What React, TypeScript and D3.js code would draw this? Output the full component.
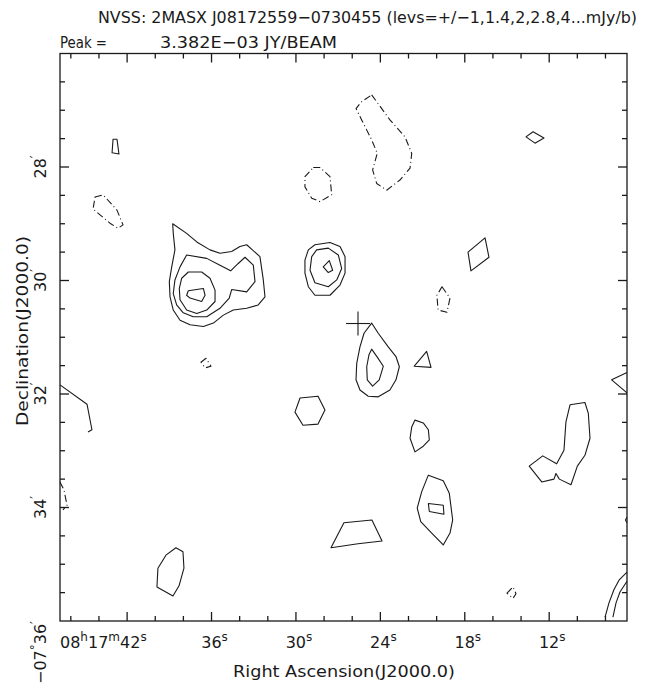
import React from 'react';
import * as d3 from 'd3';

// RA in seconds of 08h17m, Dec in arcmin below -07deg
const raRange = [46.77, 6.47];
const decRange = [26, 36];
const raTicks = d3.range(46, 7, -2);
const raLabels = [42, 36, 30, 24, 18, 12];
const decTicks = d3.range(26.5, 36, 0.5);
const decLabels = [28, 30, 32, 34];
const target = [25.59, 30.758];

// contours: [ra sec, dec arcmin]
const posContours = [
  [[43.0, 27.51], [42.72, 27.51], [42.58, 27.77], [43.07, 27.75]],
  // bright source west
  [[38.76, 29.0], [38.72, 29.17], [38.6, 29.46], [38.83, 29.76], [39.0, 30.02], [38.95, 30.29], [38.72, 30.52], [38.24, 30.7], [37.53, 30.78], [36.58, 30.81], [35.87, 30.75], [35.16, 30.61], [34.45, 30.52], [33.5, 30.49], [32.68, 30.43], [32.2, 30.29], [32.32, 29.99], [32.56, 29.58], [33.5, 29.37], [33.98, 29.4], [34.57, 29.49], [35.4, 29.52], [36.11, 29.46], [37.05, 29.32], [37.77, 29.17]],
  [[37.77, 29.55], [36.34, 29.61], [35.4, 29.73], [34.64, 29.83], [34.1, 29.7], [33.62, 29.59], [33.03, 29.73], [32.91, 30.02], [33.5, 30.2], [34.57, 30.16], [34.74, 30.31], [35.4, 30.49], [36.34, 30.64], [37.3, 30.64], [38.01, 30.57], [38.48, 30.43], [38.72, 30.23], [38.6, 29.99], [38.24, 29.76]],
  [[37.65, 29.85], [36.7, 29.85], [36.11, 29.96], [35.75, 30.17], [35.75, 30.37], [36.34, 30.52], [37.05, 30.58], [37.77, 30.52], [38.24, 30.34], [38.29, 30.14], [38.12, 29.96]],
  [[37.65, 30.18], [36.58, 30.14], [36.46, 30.26], [36.7, 30.37], [37.53, 30.31], [37.77, 30.26]],
  // compact source north
  [[28.65, 29.37], [27.58, 29.33], [26.87, 29.4], [26.51, 29.58], [26.51, 29.87], [26.87, 30.08], [27.58, 30.26], [28.65, 30.26], [29.12, 30.11], [29.36, 29.87], [29.36, 29.64], [29.12, 29.46]],
  [[28.53, 29.46], [27.7, 29.43], [26.99, 29.55], [26.75, 29.79], [27.1, 29.99], [27.7, 30.11], [28.65, 30.04], [29.0, 29.82], [28.88, 29.58]],
  [[28.06, 29.76], [27.63, 29.65], [27.39, 29.82], [27.7, 29.86]],
  // source at the galaxy
  [[24.62, 30.75], [24.15, 30.93], [23.44, 31.17], [22.89, 31.34], [22.65, 31.52], [22.89, 31.75], [23.32, 31.93], [24.15, 32.05], [24.86, 32.04], [25.45, 31.93], [25.73, 31.75], [25.68, 31.46], [25.45, 31.17], [25.16, 30.93]],
  [[24.62, 31.21], [24.22, 31.35], [23.79, 31.51], [24.08, 31.75], [24.55, 31.86], [24.93, 31.75], [24.97, 31.52], [24.81, 31.31]],
  [[21.59, 31.51], [20.71, 31.25], [20.4, 31.53]],
  [[29.71, 32.07], [28.43, 32.04], [27.94, 32.28], [28.43, 32.53], [29.5, 32.55], [30.07, 32.32]],
  [[21.54, 32.46], [20.95, 32.51], [20.59, 32.63], [20.52, 32.81], [20.95, 32.92], [21.54, 33.02], [21.89, 32.78], [21.77, 32.58]],
  [[20.59, 33.43], [19.53, 33.53], [19.1, 33.75], [18.86, 34.22], [19.05, 34.45], [19.53, 34.66], [20.35, 34.45], [21.13, 34.25], [21.38, 34.01], [21.06, 33.72]],
  [[20.59, 33.93], [19.53, 33.96], [19.48, 34.12], [20.52, 34.07]],
  [[9.46, 32.15], [10.52, 32.19], [10.81, 32.49], [10.95, 32.99], [11.47, 33.23], [12.46, 33.09], [13.42, 33.27], [12.53, 33.55], [11.66, 33.5], [11.52, 33.4], [11.28, 33.5], [10.45, 33.6], [10.0, 33.27], [9.46, 33.08], [9.1, 32.78], [9.22, 32.34]],
  [[38.53, 34.71], [38.03, 34.78], [37.96, 35.07], [38.31, 35.38], [38.74, 35.56], [39.88, 35.4], [39.81, 35.07], [39.24, 34.84]],
  [[27.51, 34.71], [26.59, 34.27], [24.6, 34.22], [23.88, 34.59], [25.59, 34.64]],
  [[13.65, 27.47], [13.15, 27.38], [12.37, 27.49], [13.01, 27.58]],
  [[16.56, 29.25], [16.28, 29.59], [17.56, 29.83], [17.77, 29.5]],
];

// contours cut by the map edge (open)
const edgeContours = [
  [[6.47, 31.62], [7.56, 31.75], [6.47, 31.98]],
  [[8.03, 35.93], [7.75, 35.68], [7.4, 35.45], [7.04, 35.28], [6.47, 35.14]],
  [[7.47, 35.93], [7.25, 35.68], [6.97, 35.49], [6.47, 35.3]],
  [[6.47, 34.17], [6.58, 34.22], [6.47, 34.27]],
  [[46.77, 31.84], [44.85, 32.18], [44.5, 32.63], [44.78, 32.67]],
];

const negContours = [
  [[44.28, 28.53], [43.71, 28.49], [42.72, 28.76], [42.29, 29.02], [42.65, 29.08], [43.22, 28.99], [44.42, 28.74]],
  [[28.77, 28.01], [28.29, 28.01], [27.58, 28.17], [27.46, 28.49], [28.29, 28.61], [28.88, 28.55], [29.36, 28.35], [29.36, 28.17]],
  [[24.62, 26.73], [24.26, 26.85], [23.32, 27.17], [22.25, 27.47], [21.77, 27.76], [21.89, 28.02], [22.61, 28.23], [23.55, 28.41], [24.26, 28.29], [24.55, 28.05], [24.22, 27.76], [24.62, 27.52], [25.33, 27.17], [25.73, 26.97], [25.33, 26.85]],
  [[19.62, 30.11], [19.05, 30.31], [19.27, 30.56], [19.9, 30.52], [19.98, 30.26]],
  [[36.75, 31.44], [36.39, 31.37], [36.04, 31.51], [36.46, 31.54]],
  [[15.0, 35.51], [14.57, 35.4], [14.36, 35.52], [14.57, 35.6]],
];
const negEdge = [
  [[46.77, 33.55], [46.49, 33.69], [46.27, 33.96], [46.56, 34.04]],
];

const font = '"DejaVu Sans", sans-serif';
const ink = '#1a1a1a';

export default function App() {
  const x = d3.scaleLinear().domain(raRange).range([60, 627]);
  const y = d3.scaleLinear().domain(decRange).range([53.5, 621]);
  const open = d3.line<number[]>().x((d) => x(d[0])).y((d) => y(d[1]));
  const closed = d3.line<number[]>().x((d) => x(d[0])).y((d) => y(d[1])).curve(d3.curveLinearClosed);
  const [x0, x1] = x.range();
  const [y0, y1] = y.range();
  const dash = '7,3,1,3';

  return (
    <svg width={646} height={687} style={{ position: 'absolute', left: 0, top: 0, background: '#fff' }}>
      <rect width={646} height={687} fill="#fff" />
      <g fill={ink} fontFamily={font}>
        <text x={98} y={23} fontSize={16} textLength={539} lengthAdjust="spacingAndGlyphs">
          NVSS: 2MASX J08172559−0730455 (levs=+/−1,1.4,2,2.8,4...mJy/b)
        </text>
        <text x={60} y={48} fontSize={16} textLength={47} lengthAdjust="spacingAndGlyphs">Peak =</text>
        <text x={160} y={48} fontSize={16} textLength={177} lengthAdjust="spacingAndGlyphs">3.382E−03 JY/BEAM</text>
        <text x={344} y={677} fontSize={16} textAnchor="middle" textLength={222} lengthAdjust="spacingAndGlyphs">
          Right Ascension(J2000.0)
        </text>
        <text transform="translate(28,331) rotate(-90)" fontSize={16} textAnchor="middle" textLength={190} lengthAdjust="spacingAndGlyphs">
          Declination(J2000.0)
        </text>
      </g>

      {/* contours */}
      <g fill="none" stroke={ink} strokeWidth={1.1} strokeLinejoin="round">
        {posContours.map((c, i) => <path key={'p' + i} d={closed(c) || ''} />)}
        {edgeContours.map((c, i) => <path key={'e' + i} d={open(c) || ''} />)}
        {negContours.map((c, i) => <path key={'n' + i} d={closed(c) || ''} strokeDasharray={dash} />)}
        {negEdge.map((c, i) => <path key={'ne' + i} d={open(c) || ''} strokeDasharray={dash} />)}
      </g>

      {/* target cross */}
      <g stroke={ink} strokeWidth={1.1}>
        <line x1={x(target[0] + 0.85)} x2={x(target[0] - 0.85)} y1={y(target[1])} y2={y(target[1])} />
        <line x1={x(target[0])} x2={x(target[0])} y1={y(target[1] - 0.21)} y2={y(target[1] + 0.21)} />
      </g>

      {/* frame and ticks */}
      <g stroke={ink} strokeWidth={1.3} fill="none">
        <rect x={x0} y={y0} width={x1 - x0} height={y1 - y0} />
        {raTicks.map((t) => {
          const len = raLabels.includes(t) ? 9 : 5;
          return (
            <g key={'rt' + t}>
              <line x1={x(t)} x2={x(t)} y1={y1} y2={y1 - len} />
              <line x1={x(t)} x2={x(t)} y1={y0} y2={y0 + len} />
            </g>
          );
        })}
        {decTicks.map((t) => {
          const len = Number.isInteger(t) && t % 2 === 0 ? 9 : 5;
          return (
            <g key={'dt' + t}>
              <line x1={x0} x2={x0 + len} y1={y(t)} y2={y(t)} />
              <line x1={x1} x2={x1 - len} y1={y(t)} y2={y(t)} />
            </g>
          );
        })}
      </g>

      {/* tick labels */}
      <g fill={ink} fontFamily={font} fontSize={16}>
        {raLabels.map((t, i) =>
          i === 0 ? (
            <text key={'rl' + t} x={x0} y={648}>
              08<tspan dy={-7} fontSize={12}>h</tspan>
              <tspan dy={7}>17</tspan>
              <tspan dy={-7} fontSize={12}>m</tspan>
              <tspan dy={7}>{t}</tspan>
              <tspan dy={-7} fontSize={12}>s</tspan>
            </text>
          ) : (
            <text key={'rl' + t} x={x(t) + 3} y={648} textAnchor="middle">
              {t}
              <tspan dy={-7} fontSize={12}>s</tspan>
            </text>
          )
        )}
        {decLabels.map((t) => (
          <text key={'dl' + t} transform={`translate(46,${y(t)}) rotate(-90)`} textAnchor="middle">
            {t}
            <tspan dy={-7} fontSize={12}>′</tspan>
          </text>
        ))}
        <text transform="translate(46,684) rotate(-90)">
          −07<tspan dy={-7} fontSize={12}>°</tspan>
          <tspan dy={7}>36</tspan>
          <tspan dy={-7} fontSize={12}>′</tspan>
        </text>
      </g>
    </svg>
  );
}
